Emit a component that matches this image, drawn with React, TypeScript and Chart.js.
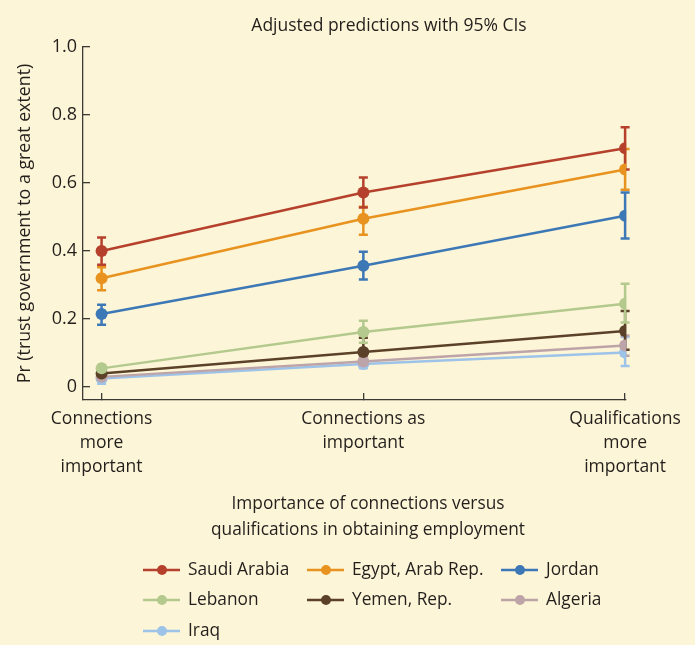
import React, { useEffect, useRef } from "react";
import { Chart, registerables } from "chart.js";
Chart.register(...registerables);

// ---------- data ----------
const categories: string[][] = [
  ["Connections", "more", "important"],
  ["Connections as", "important"],
  ["Qualifications", "more", "important"],
];
const yTicks = [0, 0.2, 0.4, 0.6, 0.8, 1.0];

const seriesNames = ["Saudi Arabia", "Egypt, Arab Rep.", "Jordan", "Lebanon", "Yemen, Rep.", "Algeria", "Iraq"];
const seriesColors = ["#b5402c", "#e8921f", "#3d78b6", "#b3c98d", "#5b4128", "#bda4a9", "#9dc3e9"];

const saudiArabia = [0.40, 0.572, 0.702];
const saudiArabiaLo = [0.36, 0.528, 0.64];
const saudiArabiaHi = [0.44, 0.616, 0.764];

const egypt = [0.32, 0.495, 0.64];
const egyptLo = [0.285, 0.448, 0.58];
const egyptHi = [0.352, 0.53, 0.70];

const jordan = [0.215, 0.357, 0.504];
const jordanLo = [0.183, 0.316, 0.437];
const jordanHi = [0.242, 0.398, 0.572];

const lebanon = [0.055, 0.162, 0.245];
const lebanonLo = [0.045, 0.13, 0.19];
const lebanonHi = [0.065, 0.195, 0.304];

const yemen = [0.04, 0.103, 0.165];
const yemenLo = [0.03, 0.068, 0.11];
const yemenHi = [0.05, 0.145, 0.224];

const algeria = [0.03, 0.075, 0.122];
const algeriaLo = [0.02, 0.06, 0.092];
const algeriaHi = [0.04, 0.09, 0.152];

const iraq = [0.025, 0.068, 0.102];
const iraqLo = [0.01, 0.055, 0.062];
const iraqHi = [0.04, 0.082, 0.147];

const seriesValues = [saudiArabia, egypt, jordan, lebanon, yemen, algeria, iraq];
const seriesLo = [saudiArabiaLo, egyptLo, jordanLo, lebanonLo, yemenLo, algeriaLo, iraqLo];
const seriesHi = [saudiArabiaHi, egyptHi, jordanHi, lebanonHi, yemenHi, algeriaHi, iraqHi];

const titleText = "Adjusted predictions with 95% CIs";
const yTitle = "Pr (trust government to a great extent)";
const xTitle = ["Importance of connections versus", "qualifications in obtaining employment"];

// ---------- styles ----------
const BG = "#fdf5d7";
const TEXT = "#231f1d";
const AXIS = "#3c3a36";
const FONT = "'Open Sans', 'Noto Sans', sans-serif";

const errorBarPlugin = {
  id: "errorBars",
  beforeDatasetsDraw(chart: any) {
    const ctx = chart.ctx;
    const xs = chart.scales.x;
    const ys = chart.scales.y;
    ctx.save();
    for (let d = seriesValues.length - 1; d >= 0; d--) {
      ctx.strokeStyle = seriesColors[d];
      ctx.lineWidth = 2.5;
      for (let i = 0; i < seriesValues[d].length; i++) {
        const x = xs.getPixelForValue(i);
        const y1 = ys.getPixelForValue(seriesLo[d][i]);
        const y2 = ys.getPixelForValue(seriesHi[d][i]);
        ctx.beginPath();
        ctx.moveTo(x, y1);
        ctx.lineTo(x, y2);
        ctx.moveTo(x - 4.5, y1);
        ctx.lineTo(x + 4.5, y1);
        ctx.moveTo(x - 4.5, y2);
        ctx.lineTo(x + 4.5, y2);
        ctx.stroke();
      }
    }
    ctx.restore();
  },
};

const decorPlugin = {
  id: "decor",
  beforeDraw(chart: any) {
    const ctx = chart.ctx;
    ctx.save();
    ctx.fillStyle = BG;
    ctx.fillRect(0, 0, chart.width, chart.height);
    ctx.restore();
  },
  afterDraw(chart: any) {
    const ctx = chart.ctx;
    const area = chart.chartArea;
    ctx.save();
    ctx.fillStyle = TEXT;
    ctx.textBaseline = "middle";
    // title
    ctx.font = `17.5px ${FONT}`;
    ctx.textAlign = "center";
    ctx.fillText(titleText, 389, 26);
    // y title
    ctx.save();
    ctx.translate(25, (area.top + area.bottom) / 2);
    ctx.rotate(-Math.PI / 2);
    ctx.font = `17.8px ${FONT}`;
    ctx.fillText(yTitle, 0, 0);
    ctx.restore();
    // x title
    ctx.font = `17.3px ${FONT}`;
    ctx.fillText(xTitle[0], 368, 504);
    ctx.fillText(xTitle[1], 368, 530);
    // legend
    const colX = [143, 307, 501];
    const rowY = [570, 600, 631];
    ctx.textAlign = "left";
    ctx.font = `17.3px ${FONT}`;
    seriesNames.forEach((name, k) => {
      const cx = colX[k % 3];
      const cy = rowY[Math.floor(k / 3)];
      ctx.strokeStyle = seriesColors[k];
      ctx.lineWidth = 2.5;
      ctx.beginPath();
      ctx.moveTo(cx, cy);
      ctx.lineTo(cx + 37, cy);
      ctx.stroke();
      ctx.fillStyle = seriesColors[k];
      ctx.beginPath();
      ctx.arc(cx + 19, cy, 5, 0, Math.PI * 2);
      ctx.fill();
      ctx.fillStyle = TEXT;
      ctx.fillText(name, cx + 45, cy);
    });
    ctx.restore();
  },
};

export default function App() {
  const ref = useRef<HTMLCanvasElement>(null);
  useEffect(() => {
    document.body.style.margin = "0";
    document.body.style.background = BG;
    const chart = new Chart(ref.current as HTMLCanvasElement, {
      type: "line",
      data: {
        datasets: seriesNames.map((name, d) => ({
          label: name,
          data: seriesValues[d].map((v, i) => ({ x: i, y: v })),
          borderColor: seriesColors[d],
          backgroundColor: seriesColors[d],
          borderWidth: 2.5,
          pointRadius: 6,
          pointHoverRadius: 6,
          pointBorderWidth: 0,
          tension: 0,
        })),
      },
      options: {
        responsive: false,
        animation: false,
        events: [],
        layout: { padding: { top: 47, right: 58, left: 0, bottom: 0 } },
        plugins: {
          legend: { display: false },
          title: { display: false },
          tooltip: { enabled: false },
        },
        scales: {
          x: {
            type: "linear",
            min: -0.071,
            max: 2.004,
            afterBuildTicks: (s: any) => {
              s.ticks = categories.map((_, i) => ({ value: i }));
            },
            afterFit: (s: any) => {
              s.height = 245;
            },
            grid: { drawOnChartArea: false, tickLength: -7, color: AXIS, lineWidth: 1.3 },
            border: { color: AXIS, width: 1.3 },
            ticks: {
              callback: (v: any) => categories[Math.round(Number(v))],
              font: { family: FONT, size: 17.5, lineHeight: 1.38 },
              color: TEXT,
              padding: 14,
              maxRotation: 0,
              autoSkip: false,
            },
          },
          y: {
            type: "linear",
            min: -0.038,
            max: 1,
            afterBuildTicks: (s: any) => {
              s.ticks = yTicks.map((v) => ({ value: v }));
            },
            afterFit: (s: any) => {
              s.width = 83;
            },
            grid: { drawOnChartArea: false, tickLength: -7, color: AXIS, lineWidth: 1.3 },
            border: { color: AXIS, width: 1.3 },
            ticks: {
              callback: (v: any) => (Number(v) === 0 ? "0" : Number(v).toFixed(1)),
              font: { family: FONT, size: 18 },
              color: TEXT,
              padding: 13,
            },
          },
        },
      },
      plugins: [errorBarPlugin, decorPlugin],
    } as any);
    return () => chart.destroy();
  }, []);
  return <canvas ref={ref} width={695} height={645} style={{ display: "block", background: BG }} />;
}
